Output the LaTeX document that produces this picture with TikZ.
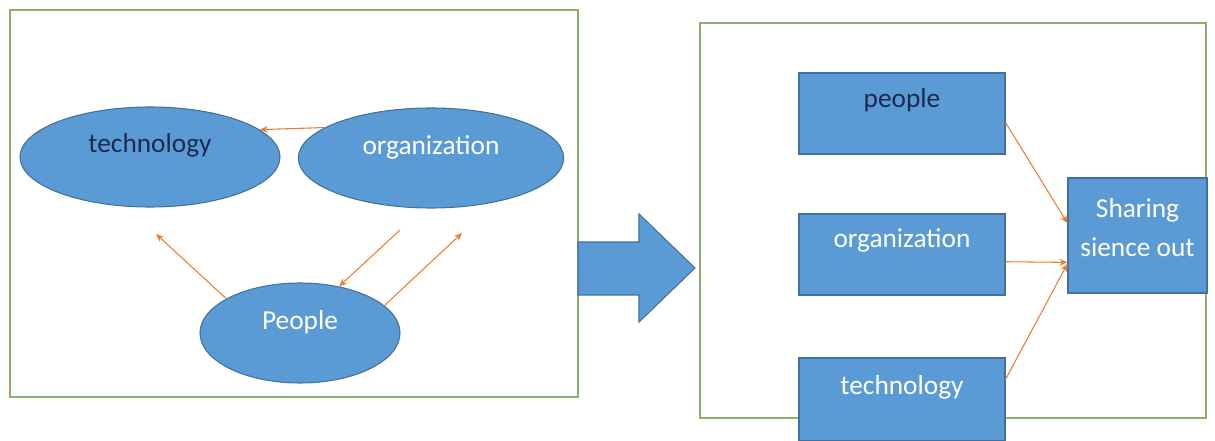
\documentclass[tikz,border=0pt]{standalone}
\usepackage{fontspec}
\setmainfont{Carlito}
\usetikzlibrary{shapes.geometric,arrows.meta}
\definecolor{fillblue}{HTML}{5B9BD5}
\definecolor{edgeblue}{HTML}{41719C}
\definecolor{arrorange}{HTML}{ED7D31}
\definecolor{framegreen}{HTML}{8FB06A}
\definecolor{darktext}{HTML}{1C2A4E}
\tikzset{
  frame/.style={draw=framegreen, line width=0.9pt},
  oval/.style={ellipse, draw=edgeblue, fill=fillblue, line width=0.8pt, inner sep=0pt},
  block/.style={rectangle, draw=edgeblue, fill=fillblue, line width=0.8pt, inner sep=0pt},
  txt/.style={font=\fontsize{20.5}{29}\selectfont, text=white, align=center},
  dtxt/.style={txt, text=darktext},
  link/.style={draw=arrorange, line width=0.8pt, -{Stealth[length=6pt,width=5pt]}},
  bigarrow/.style={draw=edgeblue, fill=fillblue, line width=0.8pt}
}
\begin{document}
\begin{tikzpicture}[x=0.75pt,y=-0.75pt]
\useasboundingbox (0,0) rectangle (1215,441);
% frames
\draw[frame] (10,10) rectangle (578,397);
\draw[frame] (700,23) rectangle (1206,418);
% left side
\node[oval, minimum width=195pt, minimum height=75pt,
      label={[dtxt, yshift=9pt]center:technology}] (tech) at (150,157) {};
\node[oval, minimum width=199pt, minimum height=75pt,
      label={[txt, yshift=8pt]center:organization}] (org) at (431,158) {};
\node[oval, minimum width=150pt, minimum height=75pt,
      label={[txt, yshift=8pt]center:People}] (ppl) at (300,333) {};
\coordinate (tc) at (156,234);
\coordinate (oc) at (400,230);
\coordinate (oc2) at (462,233);
\draw[link] (org.164) -- (tech.14);
\draw[link] (ppl.155) -- (tc);
\draw[link] (oc) -- (ppl.50);
\draw[link] (ppl.18) -- (oc2);
% big arrow
\draw[bigarrow] (578,242) -- (639,242) -- (639,214) -- (695,268) -- (639,322) -- (639,295) -- (578,295) -- cycle;
% right side
\node[block, minimum width=154.5pt, minimum height=60.75pt,
      label={[dtxt, yshift=10pt]center:people}] (p2) at (902,113.5) {};
\node[block, minimum width=154.5pt, minimum height=60.75pt,
      label={[txt, yshift=10.5pt]center:organization}] (o2) at (902,254.5) {};
\node[block, minimum width=154.5pt, minimum height=62.25pt,
      label={[txt, yshift=9pt]center:technology}] (t2) at (902,399.5) {};
\node[block, minimum width=104.25pt, minimum height=86.25pt,
      label={[txt, yshift=6pt]center:Sharing\\sience out}] (sh) at (1137.5,235.5) {};
\draw[link] (p2.-5) -- (sh.170);
\draw[link] (o2.-4) -- (sh.201);
\draw[link] (t2.11) -- (sh.202);
\end{tikzpicture}
\end{document}
